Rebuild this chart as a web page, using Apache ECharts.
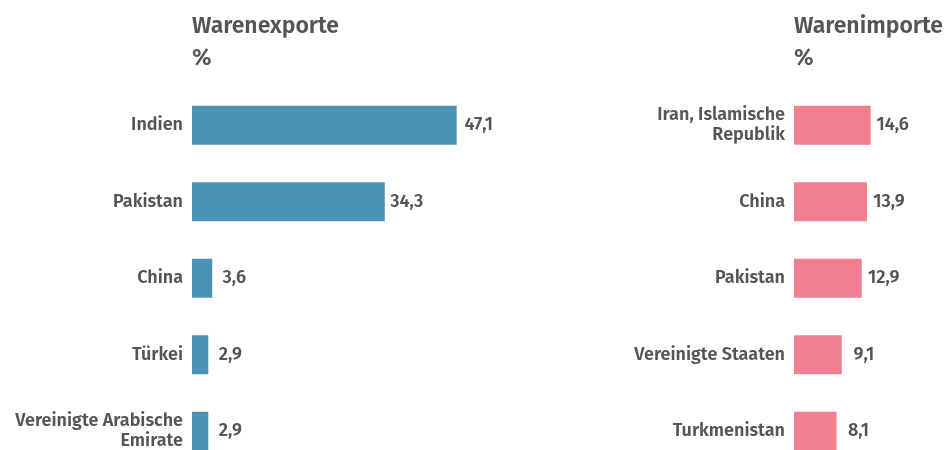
<!DOCTYPE html>
<html>
<head>
<meta charset="utf-8">
<script src="https://cdn.jsdelivr.net/npm/echarts@6/dist/echarts.min.js"></script>
<style>
  html, body { margin: 0; padding: 0; background: #fff; }
  #chart { width: 946px; height: 450px; }
</style>
</head>
<body>
<div id="chart"></div>
<script>
const exportCountries = ["Indien", "Pakistan", "China", "Türkei", "Vereinigte Arabische\nEmirate"];
const exportValues = [47.1, 34.3, 3.6, 2.9, 2.9];
const importCountries = ["Iran, Islamische\nRepublik", "China", "Pakistan", "Vereinigte Staaten", "Turkmenistan"];
const importValues = [14.6, 13.9, 12.9, 9.1, 8.1];

const textColor = "#555555";
const fontFamily = "'Fira Sans', 'Noto Sans', sans-serif";

const chart = echarts.init(document.getElementById("chart"));

const catAxis = (idx, data) => ({
  type: "category",
  gridIndex: idx,
  data: data,
  inverse: true,
  axisLine: { show: false },
  axisTick: { show: false },
  axisLabel: {
    color: textColor,
    fontSize: 18,
    fontWeight: 600,
    fontFamily: fontFamily,
    lineHeight: 20,
    margin: 9,
    align: "right",
  },
});

const valAxis = (idx, max) => ({
  type: "value",
  gridIndex: idx,
  min: 0,
  max: max,
  show: false,
  splitLine: { show: false },
});

// value labels sit centred in a small box just right of the bar end
const barSeries = (idx, data, color) => ({
  type: "bar",
  xAxisIndex: idx,
  yAxisIndex: idx,
  data: data,
  barWidth: 39,
  itemStyle: { color: color },
  label: {
    show: true,
    position: "right",
    distance: 22,
    align: "center",
    color: textColor,
    fontSize: 18,
    fontWeight: 600,
    fontFamily: fontFamily,
    formatter: (p) => String(p.value).replace(".", ","),
  },
});

const titleStyle = { color: textColor, fontSize: 23, fontWeight: 600, fontFamily: fontFamily };

const option = {
  animation: false,
  title: [
    {
      text: "Warenexporte",
      subtext: "%",
      left: 187,
      top: 10,
      itemGap: 9,
      textStyle: titleStyle,
      subtextStyle: titleStyle,
    },
    {
      text: "Warenimporte",
      subtext: "%",
      left: 789,
      top: 10,
      itemGap: 9,
      textStyle: titleStyle,
      subtextStyle: titleStyle,
    },
  ],
  grid: [
    { left: 192, width: 281, top: 87, height: 382.5, outerBoundsMode: "none" },
    { left: 794, width: 105, top: 87, height: 382.5, outerBoundsMode: "none" },
  ],
  xAxis: [valAxis(0, 50), valAxis(1, 20)],
  yAxis: [catAxis(0, exportCountries), catAxis(1, importCountries)],
  series: [
    barSeries(0, exportValues, "#4b92b7"),
    barSeries(1, importValues, "#f17f8f"),
  ],
};

chart.setOption(option);
</script>
</body>
</html>
